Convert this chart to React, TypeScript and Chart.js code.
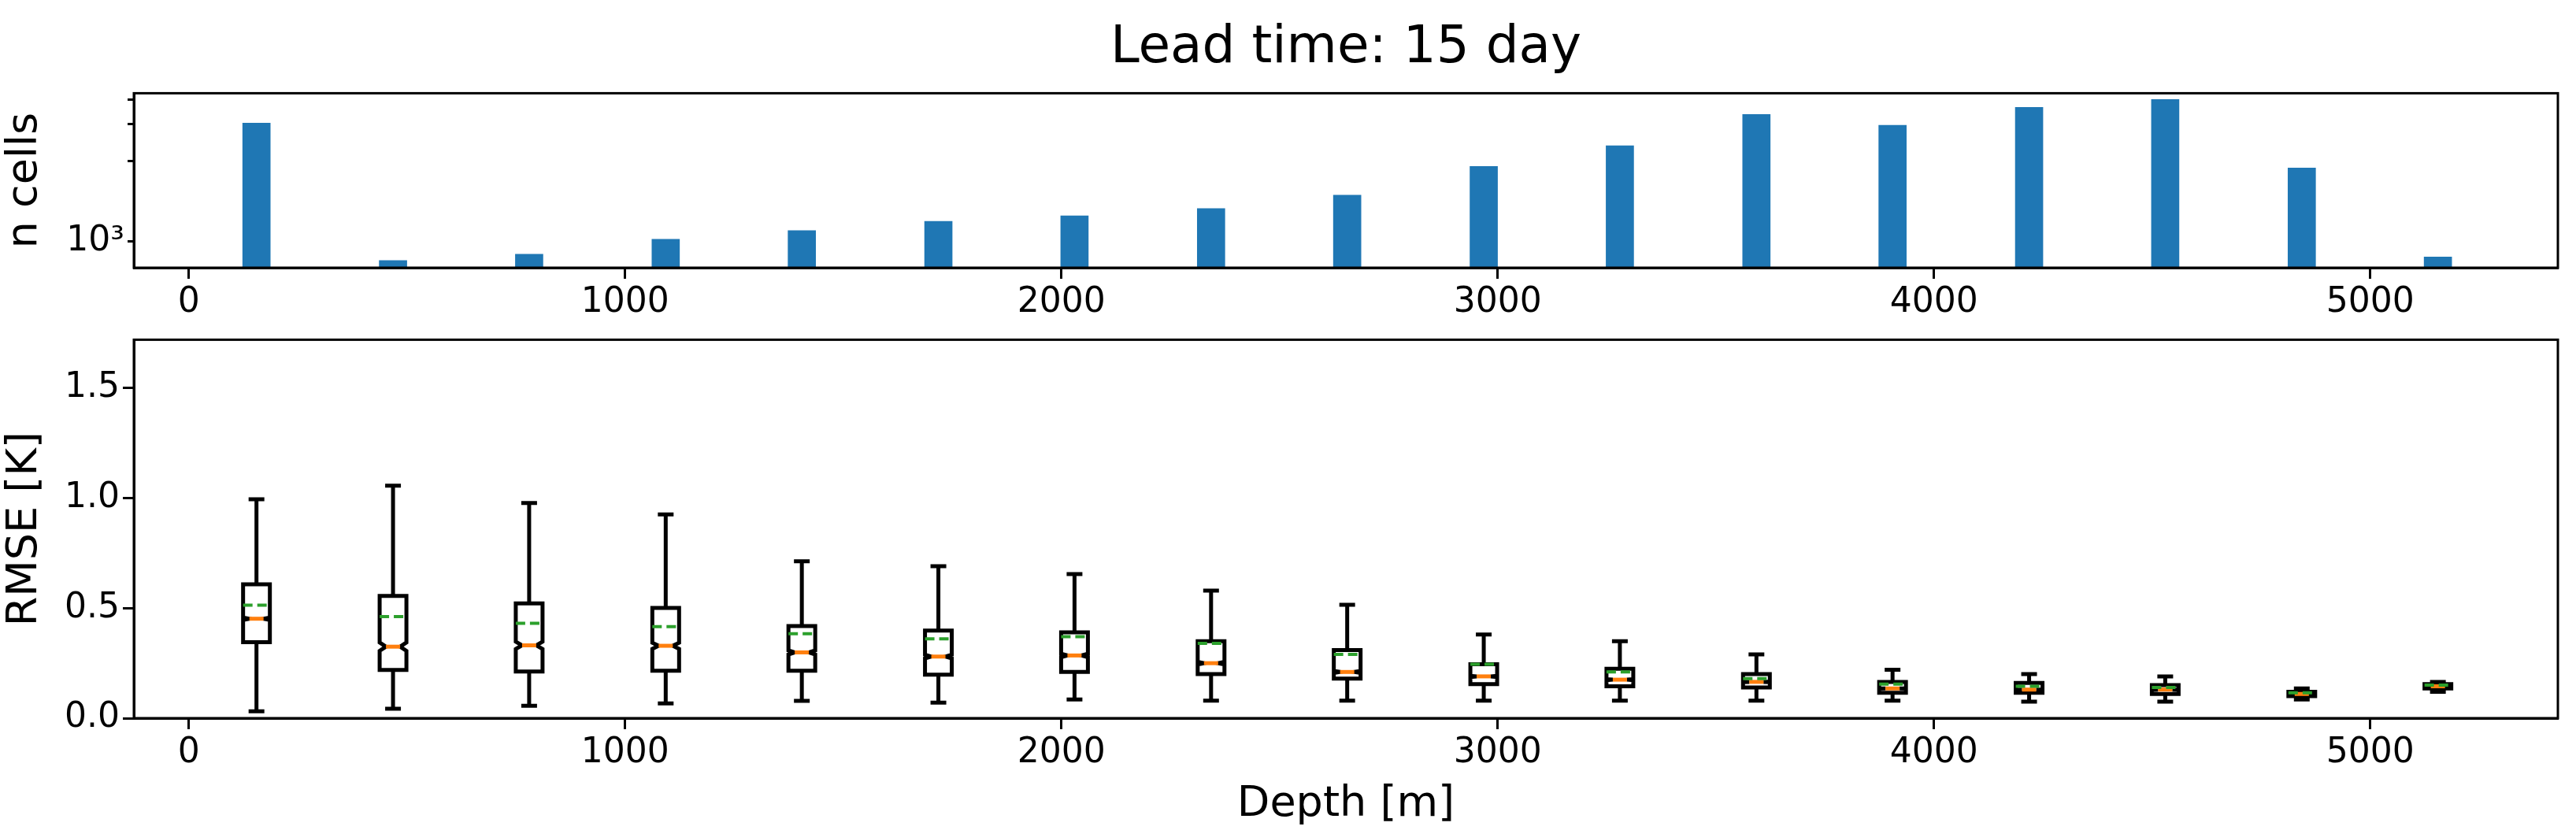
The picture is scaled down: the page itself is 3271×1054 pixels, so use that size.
import React, { useEffect, useRef } from "react";
import { Chart, registerables } from "chart.js";
Chart.register(...registerables);

const depths = [155, 468, 780, 1093, 1405, 1718, 2030, 2343, 2655, 2968, 3280, 3593, 3905, 4218, 4530, 4843, 5155];
const counts = [5050, 769, 839, 1030, 1160, 1315, 1420, 1566, 1885, 2790, 3700, 5680, 4900, 6260, 6970, 2730, 807];
const whiskerHigh = [0.995, 1.057, 0.978, 0.926, 0.713, 0.691, 0.655, 0.58, 0.515, 0.38, 0.35, 0.29, 0.22, 0.2, 0.19, 0.135, 0.165];
const q3 = [0.608, 0.556, 0.522, 0.501, 0.419, 0.398, 0.39, 0.35, 0.31, 0.245, 0.225, 0.2, 0.165, 0.16, 0.15, 0.12, 0.155];
const means = [0.514, 0.462, 0.431, 0.416, 0.384, 0.361, 0.37, 0.34, 0.29, 0.245, 0.21, 0.18, 0.155, 0.145, 0.14, 0.115, 0.15];
const medians = [0.452, 0.325, 0.331, 0.329, 0.299, 0.28, 0.285, 0.25, 0.21, 0.19, 0.175, 0.165, 0.135, 0.13, 0.13, 0.11, 0.145];
const q1 = [0.345, 0.219, 0.212, 0.216, 0.216, 0.198, 0.21, 0.2, 0.18, 0.155, 0.145, 0.14, 0.115, 0.115, 0.11, 0.1, 0.135];
const whiskerLow = [0.031, 0.043, 0.056, 0.067, 0.079, 0.071, 0.085, 0.08, 0.08, 0.08, 0.08, 0.08, 0.08, 0.075, 0.075, 0.085, 0.12];
const xTicks = [0, 1000, 2000, 3000, 4000, 5000];
const logTicks = [1000, 2000, 3000, 4000, 5000, 6000, 7000];
const rmseTicks = [0, 0.5, 1.0, 1.5];

const FONT = "DejaVu Sans";
const LEFT = 170;
const RIGHT_PAD = 23;
const frame = {
  id: "frame",
  afterDraw(c: any) {
    const a = c.chartArea, ctx = c.ctx;
    ctx.save(); ctx.strokeStyle = "#000"; ctx.lineWidth = 3;
    ctx.strokeRect(a.left, a.top, a.right - a.left, a.bottom - a.top);
    ctx.restore();
  },
};

const boxPlugin = {
  id: "boxes",
  afterDatasetsDraw(c: any) {
    const x = c.scales.x, y = c.scales.y, ctx = c.ctx;
    ctx.save();
    depths.forEach((d, i) => {
      const cx = x.getPixelForValue(d);
      const hw = 17, cap = 10, nw = 9;
      const iqr = q3[i] - q1[i];
      const nd = (1.57 * iqr) / Math.sqrt(counts[i]);
      const yq3 = y.getPixelForValue(q3[i]), yq1 = y.getPixelForValue(q1[i]);
      const ym = y.getPixelForValue(medians[i]);
      const yn1 = y.getPixelForValue(Math.max(q1[i], medians[i] - nd));
      const yn2 = y.getPixelForValue(Math.min(q3[i], medians[i] + nd));
      const yh = y.getPixelForValue(whiskerHigh[i]), yl = y.getPixelForValue(whiskerLow[i]);
      ctx.strokeStyle = "#000"; ctx.lineWidth = 5;
      ctx.beginPath();
      ctx.moveTo(cx, yq3); ctx.lineTo(cx, yh);
      ctx.moveTo(cx, yq1); ctx.lineTo(cx, yl);
      ctx.moveTo(cx - cap, yh); ctx.lineTo(cx + cap, yh);
      ctx.moveTo(cx - cap, yl); ctx.lineTo(cx + cap, yl);
      ctx.stroke();
      ctx.fillStyle = "#fff";
      ctx.beginPath();
      ctx.moveTo(cx - hw, yq1); ctx.lineTo(cx + hw, yq1); ctx.lineTo(cx + hw, yn1);
      ctx.lineTo(cx + nw, ym); ctx.lineTo(cx + hw, yn2); ctx.lineTo(cx + hw, yq3);
      ctx.lineTo(cx - hw, yq3); ctx.lineTo(cx - hw, yn2); ctx.lineTo(cx - nw, ym);
      ctx.lineTo(cx - hw, yn1); ctx.closePath();
      ctx.fill(); ctx.stroke();
      ctx.strokeStyle = "#ff7f0e"; ctx.lineWidth = 5;
      ctx.beginPath(); ctx.moveTo(cx - nw, ym); ctx.lineTo(cx + nw, ym); ctx.stroke();
      const ymean = y.getPixelForValue(means[i]);
      ctx.strokeStyle = "#2ca02c"; ctx.lineWidth = 4; ctx.setLineDash([12, 6]);
      ctx.beginPath(); ctx.moveTo(cx - hw, ymean); ctx.lineTo(cx + hw, ymean); ctx.stroke();
      ctx.setLineDash([]);
    });
    ctx.restore();
  },
};

const tickFont = { family: FONT, size: 44 };
const titleFont = { family: FONT, size: 54 };
const gridCfg = { drawOnChartArea: false, tickLength: 14, tickWidth: 3, tickColor: "#000" };

function xAxis(withTitle: boolean, height: number) {
  return {
    type: "linear", min: -126, max: 5430, offset: false,
    afterBuildTicks: (s: any) => { s.ticks = xTicks.map((v) => ({ value: v })); },
    afterFit: (s: any) => { s.height = height; },
    ticks: { font: tickFont, color: "#000", maxRotation: 0, padding: 4, callback: (v: any) => String(v) },
    grid: { ...gridCfg, offset: false }, border: { color: "#000", width: 3 },
    title: { display: withTitle, text: "Depth [m]", font: titleFont, color: "#000", padding: 0 },
  };
}

export default function App() {
  const topRef = useRef<HTMLCanvasElement>(null);
  const botRef = useRef<HTMLCanvasElement>(null);
  useEffect(() => {
    const top = new Chart(topRef.current!, {
      type: "bar",
      data: { datasets: [{ data: depths.map((d, i) => ({ x: d, y: counts[i] })), backgroundColor: "#1f77b4", barThickness: 35 }] },
      options: {
        animation: false, responsive: false,
        layout: { padding: { top: 10, right: RIGHT_PAD, left: 0, bottom: 0 } },
        plugins: { legend: { display: false }, tooltip: { enabled: false } },
        scales: {
          x: xAxis(false, 78) as any,
          y: {
            type: "logarithmic", min: 697, max: 7600,
            afterBuildTicks: (s: any) => { s.ticks = logTicks.map((v) => ({ value: v })); },
            afterFit: (s: any) => { s.width = LEFT; },
            ticks: { font: tickFont, color: "#000", padding: 4, callback: (v: any) => (v === 1000 ? "10³" : "") },
            grid: { ...gridCfg, tickLength: 8 }, border: { color: "#000", width: 3 },
            title: { display: true, text: "n cells", font: titleFont, color: "#000", padding: 0 },
          },
        },
      },
      plugins: [frame],
    } as any);
    const bot = new Chart(botRef.current!, {
      type: "scatter",
      data: { datasets: [{ data: depths.map((d, i) => ({ x: d, y: medians[i] })), pointRadius: 0 }] },
      options: {
        animation: false, responsive: false,
        layout: { padding: { top: 10, right: RIGHT_PAD, left: 0, bottom: 0 } },
        plugins: { legend: { display: false }, tooltip: { enabled: false } },
        scales: {
          x: xAxis(true, 142) as any,
          y: {
            type: "linear", min: 0, max: 1.72,
            afterBuildTicks: (s: any) => { s.ticks = rmseTicks.map((v) => ({ value: v })); },
            afterFit: (s: any) => { s.width = LEFT; },
            ticks: { font: tickFont, color: "#000", padding: 4, callback: (v: any) => Number(v).toFixed(1) },
            grid: gridCfg, border: { color: "#000", width: 3 },
            title: { display: true, text: "RMSE [K]", font: titleFont, color: "#000", padding: 0 },
          },
        },
      },
      plugins: [frame, boxPlugin],
    } as any);
    return () => { top.destroy(); bot.destroy(); };
  }, []);
  return (
    <div style={{ position: "absolute", left: 0, top: 0, width: 3271, height: 1054, background: "#fff" }}>
      <div style={{ position: "absolute", left: LEFT, width: 3271 - LEFT - RIGHT_PAD, top: 18, textAlign: "center", fontFamily: FONT, fontSize: 66, color: "#000" }}>
        Lead time: 15 day
      </div>
      <canvas ref={topRef} width={3271} height={330} style={{ position: "absolute", left: 0, top: 88 }} />
      <canvas ref={botRef} width={3271} height={653} style={{ position: "absolute", left: 0, top: 401 }} />
    </div>
  );
}
